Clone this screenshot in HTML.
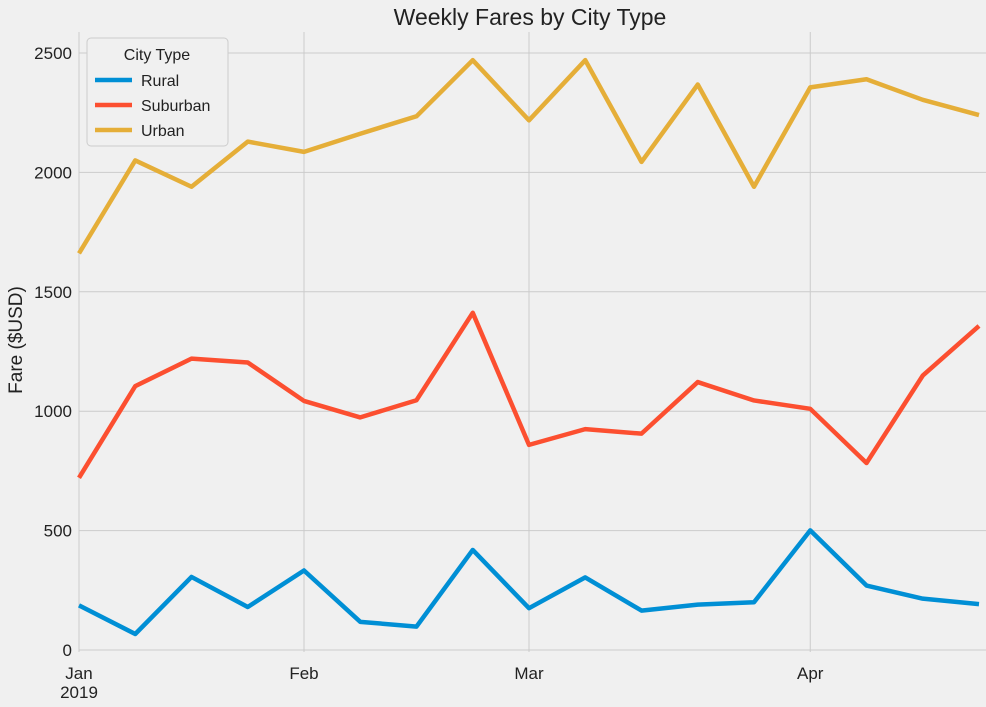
<!DOCTYPE html>
<html><head><meta charset="utf-8"><style>
body{margin:0;background:#f0f0f0;}
svg{display:block;font-family:"Liberation Sans","DejaVu Sans",sans-serif;}
</style></head><body>
<svg id="chart" width="986" height="707">
<rect width="986" height="707" fill="#f0f0f0"/>
<g id="grid"></g>
<g id="lines"></g>
<g id="axes"></g>
<text x="530" y="25" text-anchor="middle" font-size="23" fill="#222">Weekly Fares by City Type</text>
<text transform="translate(22,340) rotate(-90)" text-anchor="middle" font-size="19" fill="#222">Fare ($USD)</text>
<g>
<rect x="87" y="38" width="141" height="108" rx="4" fill="#f0f0f0" stroke="#cccccc"/>
<text x="157" y="60" text-anchor="middle" font-size="16" fill="#222">City Type</text>
<g id="legendEntries"></g>
</g>
</svg>
<script>
const categories = ["Jan 6","Jan 13","Jan 20","Jan 27","Feb 3","Feb 10","Feb 17","Feb 24","Mar 3","Mar 10","Mar 17","Mar 24","Mar 31","Apr 7","Apr 14","Apr 21","Apr 28"];
const rural = [187,67,306,180,333,118,98,419,175,304,165,190,200,501,270,215,192];
const suburban = [721,1105,1220,1204,1043,974,1046,1412,859,925,906,1122,1045,1010,783,1149,1357];
const urban = [1661,2050,1940,2129,2086,2162,2235,2470,2218,2470,2044,2368,1940,2356,2390,2304,2240];
const yTicks = [0,500,1000,1500,2000,2500];
const xTickIdx = [0,4,8,13];
const xTickLabels = ["Jan","Feb","Mar","Apr"];
const seriesNames = ["Rural","Suburban","Urban"];
const NS="http://www.w3.org/2000/svg";
const L=79,R=979,T=32,B=652;
const x=i=>L+(R-L)*i/(categories.length-1);
const y=v=>650-v*(597/2500);
function mk(t,a,p){const e=document.createElementNS(NS,t);for(const k in a)e.setAttribute(k,a[k]);p.appendChild(e);return e;}
const grid=document.getElementById('grid'),axes=document.getElementById('axes'),lines=document.getElementById('lines');
yTicks.forEach(v=>{
 const g=mk('line',{x1:L,x2:R+7,y1:y(v),y2:y(v),stroke:'#cbcbcb','stroke-width':1},grid);
 
 
 const t=mk('text',{x:72,y:y(v)+6,'text-anchor':'end','font-size':17,fill:'#222'},axes);
 t.textContent=v;
 
 
});
xTickIdx.forEach((i,k)=>{
 const g=mk('line',{x1:x(i),x2:x(i),y1:T,y2:B,stroke:'#cbcbcb','stroke-width':1},grid);
 
 
 const t=mk('text',{x:x(i),y:679,'text-anchor':'middle','font-size':17,fill:'#222'},axes);
 t.textContent=xTickLabels[k];
 
 
});
const yr=mk('text',{x:79,y:698,'text-anchor':'middle','font-size':17,fill:'#222'},axes);
yr.textContent="2019";


const colors=["#008fd5","#fc4f30","#e5ae38"];
[rural,suburban,urban].forEach((s,k)=>{
 const p=mk('polyline',{points:s.map((v,i)=>x(i)+','+y(v)).join(' '),fill:'none',stroke:colors[k],'stroke-width':4.5,'stroke-linejoin':'round'},lines);
 
 
});
const le=document.getElementById('legendEntries');
seriesNames.forEach((n,k)=>{
 const yy=80+k*25;
 const l=mk('line',{x1:95,x2:132,y1:yy,y2:yy,stroke:colors[k],'stroke-width':4.5},le);
 
 
 const t=mk('text',{x:141,y:yy+6,'font-size':16,fill:'#222'},le);
 t.textContent=n;
 
 
});
</script>
</body></html>
